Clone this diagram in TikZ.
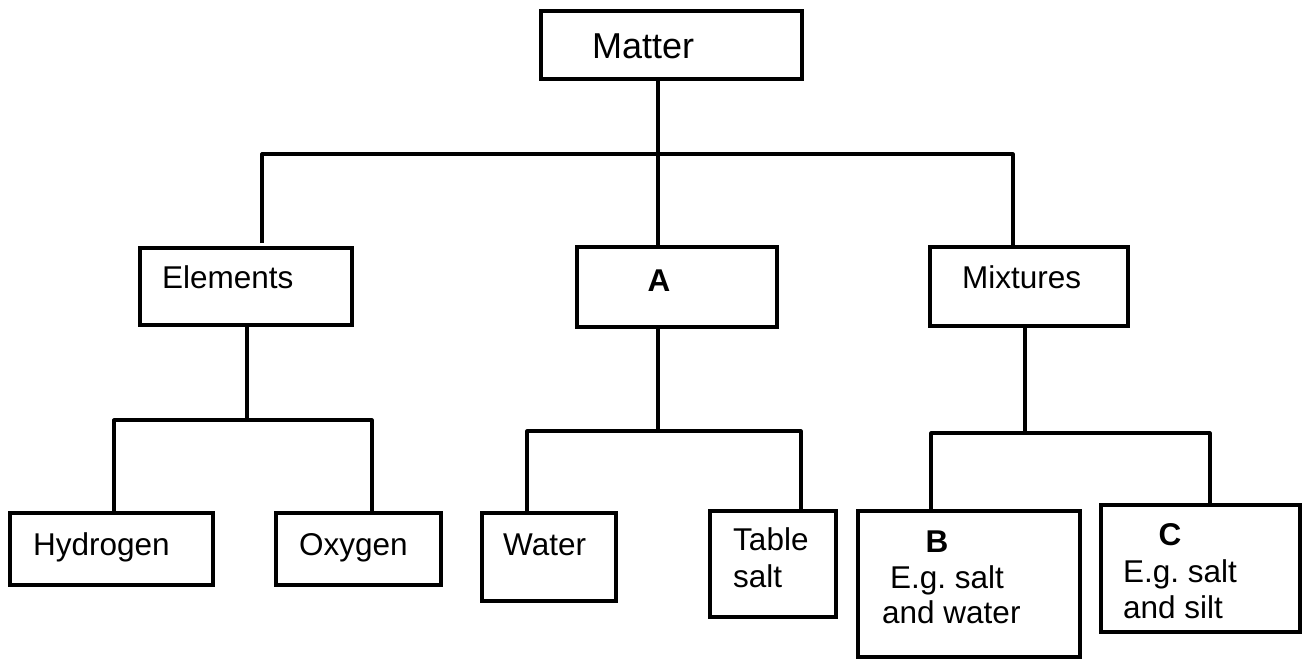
\documentclass[tikz,border=0pt]{standalone}
\usepackage{fontspec}
\setmainfont{Liberation Sans}
\usepackage{tikz}
\usetikzlibrary{positioning,calc}
\frenchspacing

\begin{document}
\begin{tikzpicture}[x=1pt,y=-1pt,
  box/.style={draw,line width=3.2pt,inner sep=0pt},
  ln/.style={line width=3.2pt,line join=round},
  lbl/.style={inner sep=0pt,anchor=base west,font=\fontsize{31.5}{37}\selectfont},
  bld/.style={inner sep=0pt,anchor=base,font=\fontsize{31.5}{37}\selectfont\bfseries}]
  \useasboundingbox (0,0) rectangle (1309,659);

  % boxes
  \node[box,minimum width=261pt,minimum height=68pt] (matter) at (671.5,45) {};
  \node[box,minimum width=212pt,minimum height=77pt] (elements) at (246,286.5) {};
  \node[box,minimum width=200pt,minimum height=80pt] (a) at (677,287) {};
  \node[box,minimum width=198pt,minimum height=79pt] (mixtures) at (1029,286.5) {};
  \node[box,minimum width=203pt,minimum height=72pt] (hydrogen) at (111.5,549) {};
  \node[box,minimum width=165pt,minimum height=72pt] (oxygen) at (358.5,549) {};
  \node[box,minimum width=134pt,minimum height=88pt] (water) at (549,557) {};
  \node[box,minimum width=126pt,minimum height=106pt] (tsalt) at (773,564) {};
  \node[box,minimum width=222pt,minimum height=146pt] (b) at (969,584) {};
  \node[box,minimum width=199pt,minimum height=127pt] (c) at (1200.5,568.5) {};

  % texts
  \node[lbl,font=\fontsize{36}{42}\selectfont] (tmatter) at (592,58) {Matter};
  \node[lbl] (telements) at (162,288) {Elements};
  \node[bld] (ta-txt) at (659,291) {A};
  \node[lbl] (tmixtures) at (962,288) {Mixtures};
  \node[lbl] (thydrogen) at (33,555) {Hydrogen};
  \node[lbl] (toxygen) at (299,555) {Oxygen};
  \node[lbl] (twater) at (503,555) {Water};
  \node[lbl] (ttable) at (733,550) {Table};
  \node[lbl] (tsalt-txt) at (733,587) {salt};
  \node[bld] (tb) at (937,552) {B};
  \node[lbl] (tb1) at (890,588) {E.g. salt};
  \node[lbl] (tb2) at (882,623) {and water};
  \node[bld] (tc) at (1170,545) {C};
  \node[lbl] (tc1) at (1123,582) {E.g. salt};
  \node[lbl] (tc2) at (1123,618) {and silt};

  % joints
  \coordinate (tm) at (658,154);
  \coordinate (eup) at (262,243);
  \coordinate (xup) at (1013,154);
  \coordinate (te) at (247,420);
  \coordinate (hd) at (114,420);
  \coordinate (od) at (372,420);
  \coordinate (tam) at (658,431);
  \coordinate (wd) at (527,431);
  \coordinate (sd) at (801,431);
  \coordinate (tx) at (1025,433);
  \coordinate (bd) at (931,433);
  \coordinate (cd) at (1210,433);

  % connectors
  \draw[ln] (matter.south -| tm) -- (a.north -| tm);
  \draw[ln] (eup) |- (xup) -- (mixtures.north -| xup);
  \draw[ln] (elements.south -| te) -- (te);
  \draw[ln] (hydrogen.north -| hd) |- (od) -- (oxygen.north -| od);
  \draw[ln] (a.south -| tam) -- (tam);
  \draw[ln] (water.north -| wd) |- (sd) -- (tsalt.north -| sd);
  \draw[ln] (mixtures.south -| tx) -- (tx);
  \draw[ln] (b.north -| bd) |- (cd) -- (c.north -| cd);
\end{tikzpicture}
\end{document}
